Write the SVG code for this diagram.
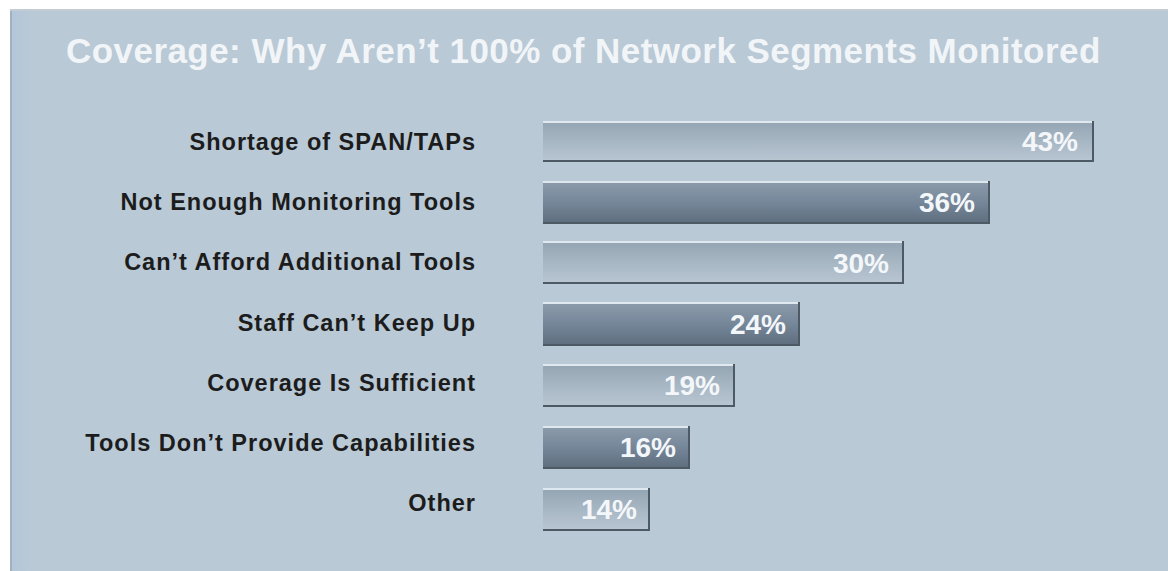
<svg xmlns="http://www.w3.org/2000/svg" width="1168" height="571" viewBox="0 0 1168 571">
<defs>
<linearGradient id="gLight" x1="0" y1="0" x2="0" y2="1">
<stop offset="0" stop-color="#93a4b2"/>
<stop offset="0.55" stop-color="#a9b8c5"/>
<stop offset="1" stop-color="#b8c6d2"/>
</linearGradient>
<linearGradient id="gDark" x1="0" y1="0" x2="0" y2="1">
<stop offset="0" stop-color="#8c9cab"/>
<stop offset="0.5" stop-color="#76879a"/>
<stop offset="1" stop-color="#5e6e7e"/>
</linearGradient>
<linearGradient id="gPanel" x1="0" y1="0" x2="1" y2="0">
<stop offset="0" stop-color="#b3c7da"/>
<stop offset="1" stop-color="#b9c9d6"/>
</linearGradient>
</defs>
<style>
.lbl{font-family:"Liberation Sans",Arial,sans-serif;font-weight:bold;font-size:23.5px;letter-spacing:1px;fill:#1c1c1c;text-anchor:end}
.pct{font-family:"Liberation Sans",Arial,sans-serif;font-weight:bold;font-size:28px;fill:#f4f7fa;text-anchor:end}
.title{font-family:"Liberation Sans",Arial,sans-serif;font-weight:bold;font-size:35px;letter-spacing:0.45px;fill:#f2f5f8}
.light{fill:url(#gLight)}
.dark{fill:url(#gDark)}
.hl{fill:#dfe8ef}
.sh{fill:#4d5a66}
</style>
<rect x="0" y="0" width="1168" height="571" fill="#ffffff"/>
<rect x="10" y="9" width="1158" height="562" fill="#b9c9d6"/>
<rect x="12" y="9" width="20" height="562" fill="url(#gPanel)"/>
<rect x="10" y="9" width="2" height="562" fill="#a4b0bb"/>
<rect x="10" y="9" width="1158" height="2" fill="#c2ccd4"/>
<text class="title" x="66" y="63">Coverage: Why Aren’t 100% of Network Segments Monitored</text>

<g id="bar1">
<text class="lbl" x="476" y="150">Shortage of SPAN/TAPs</text>
<rect x="543" y="121" width="551" height="40" class="light"/>
<rect x="543" y="121" width="551" height="2" class="hl"/>
<rect x="543" y="160" width="551" height="2" class="sh"/>
<rect x="1092" y="121" width="2" height="41" class="sh"/>
<text class="pct" x="1078" y="151">43%</text>
</g>
<g id="bar2">
<text class="lbl" x="476" y="210">Not Enough Monitoring Tools</text>
<rect x="543" y="181" width="447" height="42" class="dark"/>
<rect x="543" y="181" width="447" height="2" class="hl"/>
<rect x="543" y="222" width="447" height="2" class="sh"/>
<rect x="988" y="181" width="2" height="43" class="sh"/>
<text class="pct" x="975" y="212">36%</text>
</g>
<g id="bar3">
<text class="lbl" x="476" y="270">Can’t Afford Additional Tools</text>
<rect x="543" y="241" width="361" height="42" class="light"/>
<rect x="543" y="241" width="361" height="2" class="hl"/>
<rect x="543" y="282" width="361" height="2" class="sh"/>
<rect x="902" y="241" width="2" height="43" class="sh"/>
<text class="pct" x="889" y="273">30%</text>
</g>
<g id="bar4">
<text class="lbl" x="476" y="331">Staff Can’t Keep Up</text>
<rect x="543" y="302" width="257" height="43" class="dark"/>
<rect x="543" y="302" width="257" height="2" class="hl"/>
<rect x="543" y="344" width="257" height="2" class="sh"/>
<rect x="798" y="302" width="2" height="44" class="sh"/>
<text class="pct" x="786" y="334">24%</text>
</g>
<g id="bar5">
<text class="lbl" x="476" y="391">Coverage Is Sufficient</text>
<rect x="543" y="364" width="192" height="42" class="light"/>
<rect x="543" y="364" width="192" height="2" class="hl"/>
<rect x="543" y="405" width="192" height="2" class="sh"/>
<rect x="733" y="364" width="2" height="43" class="sh"/>
<text class="pct" x="720" y="395">19%</text>
</g>
<g id="bar6">
<text class="lbl" x="476" y="451">Tools Don’t Provide Capabilities</text>
<rect x="543" y="426" width="147" height="42" class="dark"/>
<rect x="543" y="426" width="147" height="2" class="hl"/>
<rect x="543" y="467" width="147" height="2" class="sh"/>
<rect x="688" y="426" width="2" height="43" class="sh"/>
<text class="pct" x="676" y="457">16%</text>
</g>
<g id="bar7">
<text class="lbl" x="476" y="511">Other</text>
<rect x="543" y="488" width="107" height="42" class="light"/>
<rect x="543" y="488" width="107" height="2" class="hl"/>
<rect x="543" y="529" width="107" height="2" class="sh"/>
<rect x="648" y="488" width="2" height="43" class="sh"/>
<text class="pct" x="637" y="519">14%</text>
</g>
<g id="connectors"/>
</svg>
